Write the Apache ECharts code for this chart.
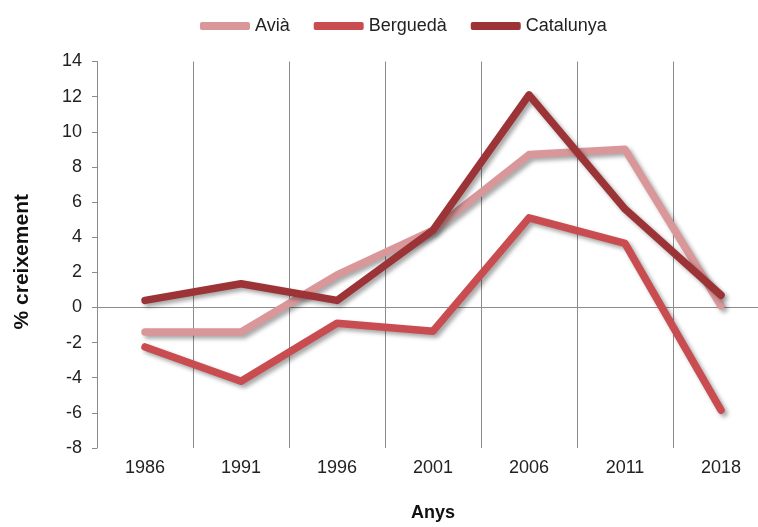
<!DOCTYPE html>
<html>
<head>
<meta charset="utf-8">
<script src="https://cdn.jsdelivr.net/npm/echarts@6/dist/echarts.min.js"></script>
<style>html,body{margin:0;padding:0;background:#fff;overflow:hidden;width:758px;height:527px;}#c{width:769px;height:527px;}</style>
</head>
<body>
<div id="c"></div>
<script>
const years = ['1986', '1991', '1996', '2001', '2006', '2011', '2018'];
const avia = [-1.4, -1.4, 1.85, 4.4, 8.7, 9.0, 0.1];
const bergueda = [-2.25, -4.2, -0.9, -1.35, 5.1, 3.65, -5.85];
const catalunya = [0.4, 1.35, 0.4, 4.4, 12.1, 5.6, 0.7];
const yTicks = { min: -8, max: 14, interval: 2 };

const FONT = 'Liberation Sans, Arial, sans-serif';
const chart = echarts.init(document.getElementById('c'), null, { renderer: 'canvas' });

function lineSeries(name, data, color) {
  return {
    name: name, type: 'line', data: data, symbol: 'none', xAxisIndex: 0,
    lineStyle: { width: 7.5, color: color, cap: 'round', join: 'round',
      shadowColor: 'rgba(0,0,0,0.35)', shadowBlur: 4, shadowOffsetX: 3, shadowOffsetY: 3 },
    itemStyle: { color: color },
    emphasis: { disabled: true }
  };
}

chart.setOption({
  animation: false,
  backgroundColor: '#ffffff',
  textStyle: { fontFamily: FONT },
  legend: {
    top: 12, left: 195,
    itemWidth: 50, itemHeight: 8, itemGap: 24,
    icon: 'roundRect',
    textStyle: { fontFamily: FONT, fontSize: 18, color: '#222' },
    data: ['Avià', 'Berguedà', 'Catalunya']
  },
  grid: { left: 97, top: 61.5, right: 0, bottom: 75, containLabel: false },
  xAxis: [{
    type: 'category', data: years, boundaryGap: true,
    position: 'bottom',
    axisLine: { show: false, onZero: false },
    axisTick: { show: false },
    axisLabel: { fontFamily: FONT, fontSize: 18, color: '#222', margin: 11 },
    splitLine: { show: true, lineStyle: { color: '#8c8c8c', width: 1 } },
    name: 'Anys', nameLocation: 'middle', nameGap: 56,
    nameTextStyle: { fontFamily: FONT, fontSize: 18, fontWeight: 'bold', color: '#111' }
  }, {
    type: 'category', data: years, boundaryGap: true,
    position: 'bottom',
    axisLine: { show: true, onZero: true, lineStyle: { color: '#8c8c8c', width: 1 } },
    axisTick: { show: false },
    axisLabel: { show: false },
    splitLine: { show: false }
  }],
  yAxis: {
    type: 'value', min: yTicks.min, max: yTicks.max, interval: yTicks.interval,
    axisLine: { show: true, lineStyle: { color: '#8c8c8c', width: 1 } },
    axisTick: { show: true, length: 5, lineStyle: { color: '#8c8c8c' } },
    axisLabel: { fontFamily: FONT, fontSize: 18, color: '#222', margin: 15 },
    splitLine: { show: false },
    name: '% creixement', nameLocation: 'middle', nameGap: 64, nameRotate: 90,
    nameTextStyle: { fontFamily: FONT, fontSize: 21, fontWeight: 'bold', color: '#111', padding: [0, 0, 0, -14] }
  },
  series: [
    lineSeries('Avià', avia, '#d9979a'),
    lineSeries('Berguedà', bergueda, '#c94d50'),
    lineSeries('Catalunya', catalunya, '#9c3336')
  ]
});
</script>
</body>
</html>
